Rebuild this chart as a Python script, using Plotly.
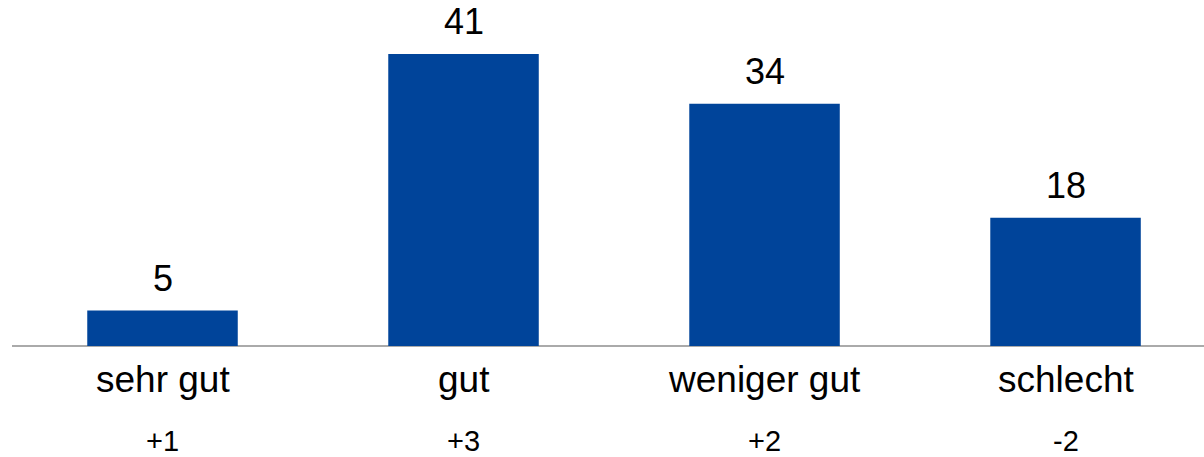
import plotly.graph_objects as go

categories = ["sehr gut", "gut", "weniger gut", "schlecht"]
values = [5, 41, 34, 18]
changes = ["+1", "+3", "+2", "-2"]

BAR_COLOR = "#00449A"
FONT = "Liberation Sans, Arial, sans-serif"

fig = go.Figure()
fig.add_trace(go.Bar(
    x=categories, y=values,
    marker=dict(color=BAR_COLOR, line=dict(width=0)),
    hoverinfo="skip",
))

annotations = []
for c, v, d in zip(categories, values, changes):
    annotations.append(dict(x=c, y=v, xref="x", yref="y", text=str(v), showarrow=False,
                            yanchor="middle", yshift=32,
                            font=dict(size=36, color="#000000", family=FONT)))
    annotations.append(dict(x=c, y=0, xref="x", yref="y", text=c, showarrow=False,
                            yanchor="middle", yshift=-33,
                            font=dict(size=37, color="#000000", family=FONT)))
    annotations.append(dict(x=c, y=0, xref="x", yref="y", text=d, showarrow=False,
                            yanchor="middle", yshift=-95,
                            font=dict(size=29, color="#000000", family=FONT)))

fig.update_layout(
    width=1204, height=457,
    margin=dict(l=12, r=0, t=0, b=111),
    paper_bgcolor="white", plot_bgcolor="white",
    bargap=0.5,
    showlegend=False,
    annotations=annotations,
    xaxis=dict(range=[-0.5, 3.46], showticklabels=False, ticks="", showgrid=False,
               zeroline=False, showline=False, fixedrange=True),
    yaxis=dict(range=[0, 48.58], showticklabels=False, ticks="", showgrid=False,
               zeroline=True, zerolinecolor="#AAAAAA", zerolinewidth=2,
               showline=False, fixedrange=True),
)

fig.write_html("out.html",
               config={"displayModeBar": False},
               post_script="document.body.style.margin='0';document.body.style.overflow='hidden';")
